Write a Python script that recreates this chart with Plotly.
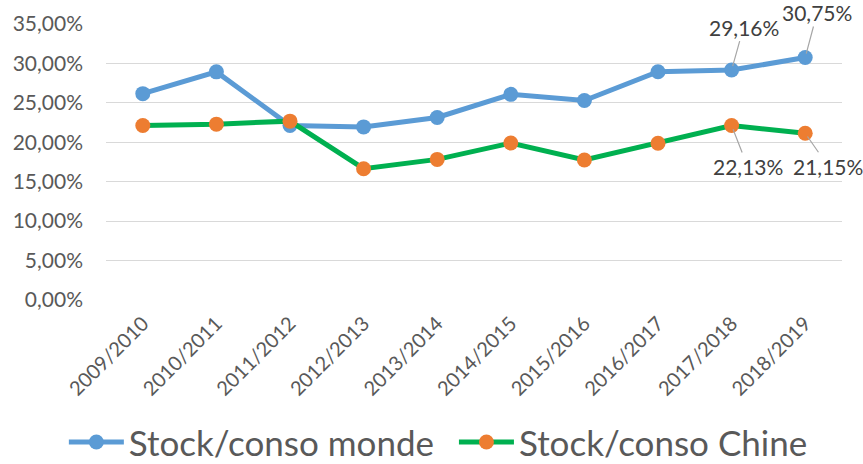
import plotly.graph_objects as go

categories = ["2009/2010", "2010/2011", "2011/2012", "2012/2013", "2013/2014",
              "2014/2015", "2015/2016", "2016/2017", "2017/2018", "2018/2019"]
stock_monde = [0.2617, 0.2893, 0.2213, 0.2195, 0.2315, 0.2608, 0.2530, 0.2895, 0.2916, 0.3075]
stock_chine = [0.2213, 0.2230, 0.2268, 0.1665, 0.1783, 0.1990, 0.1775, 0.1987, 0.2213, 0.2115]
y_ticks = [0, 0.05, 0.10, 0.15, 0.20, 0.25, 0.30, 0.35]

FONT = "Lato"
BLUE = "#5B9BD5"
ORANGE = "#ED7D31"
GREEN = "#00B050"
TXT = "#595959"

fig = go.Figure()
fig.add_trace(go.Scatter(
    x=categories, y=stock_monde, name="Stock/conso monde", mode="lines+markers",
    line=dict(color=BLUE, width=5), marker=dict(color=BLUE, size=15),
    legend="legend",
))
fig.add_trace(go.Scatter(
    x=categories, y=stock_chine, name="Stock/conso Chine", mode="lines+markers",
    line=dict(color=GREEN, width=5), marker=dict(color=ORANGE, size=15),
    legend="legend2",
))

labels = [
    (categories[8], stock_monde[8], 12, -43),
    (categories[9], stock_monde[9], 12, -45),
    (categories[8], stock_chine[8], 16, 41),
    (categories[9], stock_chine[9], 23, 33),
]
for cx, cy, ax, ay in labels:
    fig.add_annotation(
        x=cx, y=cy, text=f"{cy*100:.2f}%".replace(".", ","),
        showarrow=True, arrowhead=0, arrowwidth=1.2, arrowcolor="#A6A6A6",
        ax=ax, ay=ay, standoff=4,
        font=dict(family=FONT, size=21, color="#404040"),
    )

legend_style = dict(
    orientation="h", xref="container", yref="container",
    xanchor="left", y=0.047, yanchor="middle",
    font=dict(family=FONT, size=35, color=TXT),
    itemwidth=55, bgcolor="rgba(0,0,0,0)",
)

fig.update_layout(
    width=863, height=464,
    margin=dict(l=106, r=21, t=24, b=164, autoexpand=False),
    paper_bgcolor="white", plot_bgcolor="white",
    separators=", ",
    font=dict(family=FONT, color=TXT),
    showlegend=True,
    legend=dict(x=0.074, **legend_style),
    legend2=dict(x=0.526, **legend_style),
    xaxis=dict(
        range=[-0.5, 9.5],
        tickangle=-45, tickfont=dict(family=FONT, size=20, color=TXT),
        showgrid=False, showline=False, ticks="", automargin=False,
        ticklabelstandoff=7,
    ),
    yaxis=dict(
        range=[0, 0.35], tickvals=y_ticks, tickformat=".2%",
        tickfont=dict(family=FONT, size=21, color=TXT),
        showgrid=True, gridcolor="#D9D9D9", gridwidth=1.3,
        zeroline=False, showline=False, ticks="", ticklabelstandoff=22,
        automargin=False,
    ),
)

fig.write_html(
    "out.html",
    config={"displayModeBar": False},
    post_script="document.body.style.margin='0';document.body.style.overflow='hidden';",
)
